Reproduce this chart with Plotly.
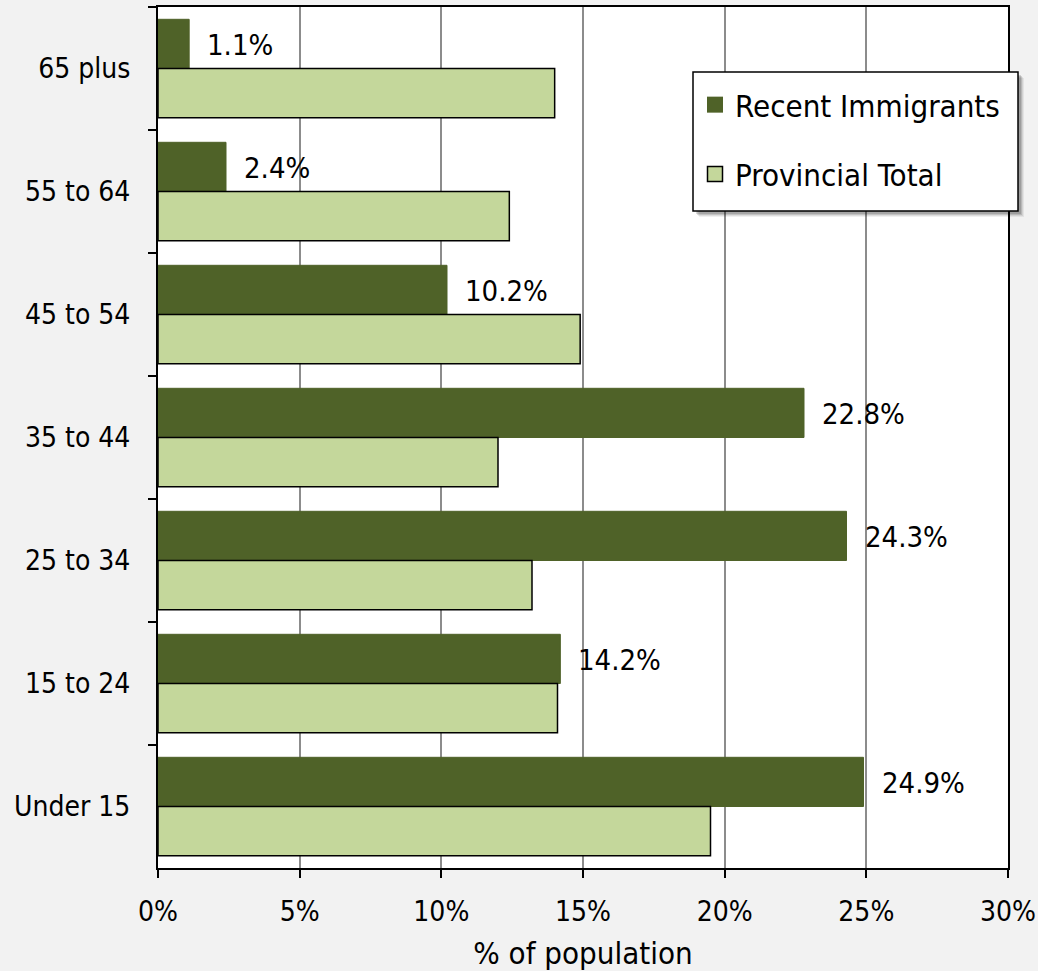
import plotly.graph_objects as go

# Age groups, top to bottom
age_groups = ["65 plus", "55 to 64", "45 to 54", "35 to 44", "25 to 34", "15 to 24", "Under 15"]

# Share of population in each age group (%)
recent_immigrants = [1.1, 2.4, 10.2, 22.8, 24.3, 14.2, 24.9]
provincial_total = [14.0, 12.4, 14.9, 12.0, 13.2, 14.1, 19.5]

x_ticks = [0, 5, 10, 15, 20, 25, 30]
x_tick_labels = ["0%", "5%", "10%", "15%", "20%", "25%", "30%"]

FONT = "DejaVu Sans Condensed, DejaVu Sans, sans-serif"
DARK = "#4f6228"
LIGHT = "#c4d79b"

# Plot-area geometry in pixels (used to place the legend box in paper coords)
L, R, T, B = 158, 1008, 7, 868
PW, PH = R - L, B - T


def px(xp):
    return (xp - L) / PW


def py(yp):
    return (B - yp) / PH


fig = go.Figure()
fig.add_trace(go.Bar(
    y=age_groups, x=recent_immigrants, orientation="h",
    name="Recent Immigrants", marker=dict(color=DARK, line=dict(color=DARK, width=1)),
    showlegend=False,
))
fig.add_trace(go.Bar(
    y=age_groups, x=provincial_total, orientation="h",
    name="Provincial Total", marker=dict(color=LIGHT, line=dict(color="#000000", width=1.5)),
    showlegend=False,
))

# Legend entries with larger square swatches
fig.add_trace(go.Scatter(
    x=[None], y=[None], mode="markers", name="Recent Immigrants",
    marker=dict(symbol="square", size=16, color=DARK, line=dict(color=DARK, width=0)),
    legendgroup="a",
))
fig.add_trace(go.Scatter(
    x=[None], y=[None], mode="markers", name="Provincial Total",
    marker=dict(symbol="square", size=15, color=LIGHT, line=dict(color="#000000", width=1.5)),
    legendgroup="b",
))

# Value labels to the right of the recent-immigrant bars
for cat, v in zip(age_groups, recent_immigrants):
    fig.add_annotation(
        x=v, y=cat, text=f"{v:.1f}%", showarrow=False,
        xanchor="left", xshift=16, yshift=24,
        font=dict(family=FONT, size=29, color="#000000"),
    )

# Legend frame: soft drop shadow, then white box with black border
for off, alpha in [(6, 0.06), (5, 0.08), (4, 0.12), (3, 0.14)]:
    fig.add_shape(
        type="rect", xref="paper", yref="paper",
        x0=px(693 + off), x1=px(1018 + off), y0=py(211 + off), y1=py(72 + off),
        fillcolor=f"rgba(0,0,0,{alpha})", line=dict(width=0), layer="above",
    )
fig.add_shape(
    type="rect", xref="paper", yref="paper",
    x0=px(693), x1=px(1018), y0=py(211), y1=py(72),
    fillcolor="#ffffff", line=dict(color="#000000", width=1.5), layer="above",
)

fig.update_layout(
    width=1038, height=971,
    margin=dict(l=L, r=1038 - R, t=T, b=971 - B),
    paper_bgcolor="#f2f2f2", plot_bgcolor="#ffffff",
    barmode="group", bargap=0.2, bargroupgap=0,
    font=dict(family=FONT, size=28, color="#000000"),
    showlegend=True,
    legend=dict(
        x=px(695), y=py(78), xanchor="left", yanchor="top",
        bgcolor="rgba(0,0,0,0)", borderwidth=0,
        font=dict(family=FONT, size=31, color="#000000"),
        traceorder="grouped", tracegroupgap=26,
        itemwidth=30,
    ),
    xaxis=dict(
        range=[0, 30], tickvals=x_ticks, ticktext=x_tick_labels,
        showgrid=True, gridcolor="#8c8c8c", gridwidth=1.5,
        showline=True, linecolor="#000000", linewidth=2, mirror=True,
        ticks="outside", ticklen=8, tickwidth=1.5, tickcolor="#000000",
        zeroline=False, automargin=False,
        title=dict(text="% of population", font=dict(family=FONT, size=31), standoff=16),
        tickfont=dict(family=FONT, size=28),
        ticklabelstandoff=9,
    ),
    yaxis=dict(
        autorange="reversed", categoryorder="array", categoryarray=age_groups,
        showline=True, linecolor="#000000", linewidth=2, mirror=True,
        ticks="outside", ticklen=8, tickwidth=1.5, tickcolor="#000000",
        tickson="boundaries", showgrid=False, automargin=False,
        tickfont=dict(family=FONT, size=28),
        ticklabelstandoff=20,
    ),
)

fig.write_html("out.html")
